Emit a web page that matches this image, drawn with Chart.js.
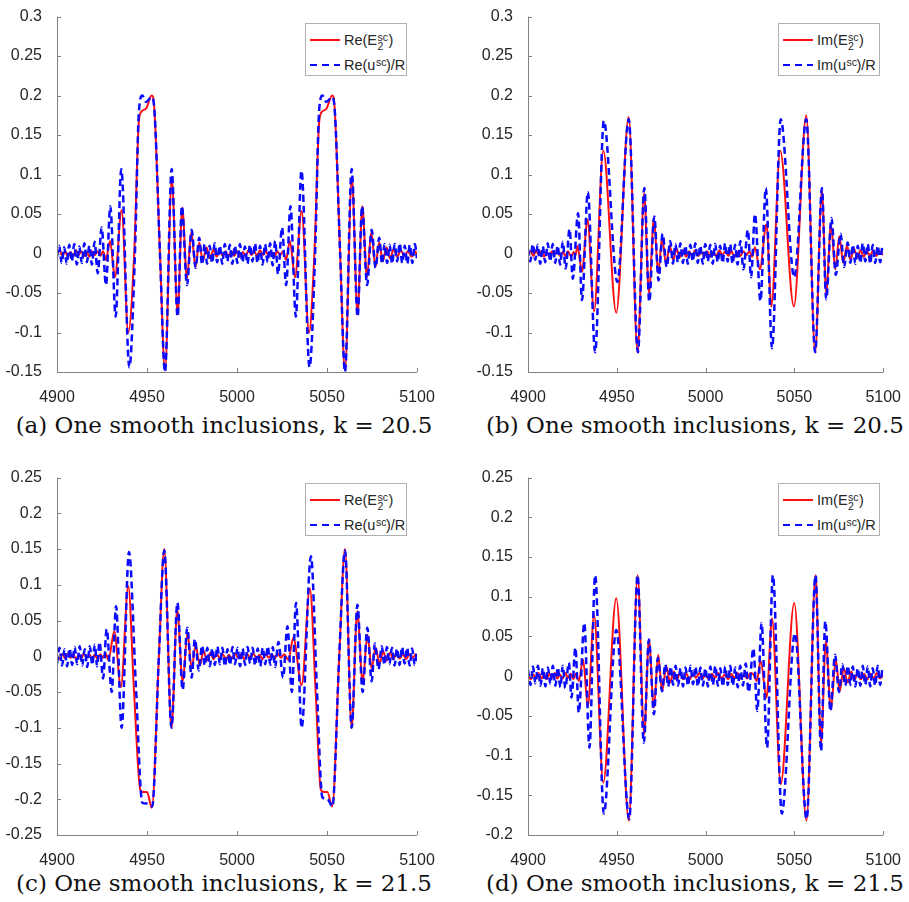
<!DOCTYPE html>
<html>
<head>
<meta charset="utf-8">
<script src="https://cdn.jsdelivr.net/npm/chart.js@4.4.1/dist/chart.umd.min.js"></script>
<style>
  body { margin: 0; background: #fff; width: 909px; height: 902px; position: relative; overflow: hidden;
         font-family: "Liberation Sans", Arial, sans-serif; }
  .panel { position: absolute; }
  .cap { position: absolute; font-family: "DejaVu Serif", serif; font-size: 23px;
         white-space: nowrap; transform: translate(-50%, -50%); color: #111; }
  .leg { position: absolute; width: 100px; height: 51px; border: 1px solid #b0b0b0; background: #fff;
         font-size: 14.5px; color: #262626; }
  .row { position: absolute; left: 4px; height: 20px; display: flex; align-items: center; white-space: nowrap; }
  .r1 { top: 6px; }
  .r2 { top: 31px; }
  .solid { width: 30px; height: 2px; background: #ff1010; margin-right: 4px; }
  .dash { width: 30px; height: 2.5px; margin-right: 4px;
          background: repeating-linear-gradient(to right, #0a0aff 0 7px, transparent 7px 12px); }
  .ss { display: inline-block; position: relative; width: 11.5px; height: 14.5px; }
  .ss .up, .ss .dn { position: absolute; left: 0.5px; font-size: 10.5px; line-height: 1; }
  .ss .up { top: -1px; }
  .ss .dn { top: 8.5px; }
</style>
</head>
<body>

<div class="panel" style="left:0;top:0"><canvas id="pa" width="445" height="405"></canvas></div>
<div class="panel" style="left:471px;top:0"><canvas id="pb" width="438" height="405"></canvas></div>
<div class="panel" style="left:0;top:461px"><canvas id="pc" width="445" height="407"></canvas></div>
<div class="panel" style="left:471px;top:461px"><canvas id="pd" width="438" height="407"></canvas></div>

<div class="leg" style="left:305px;top:23px">
  <div class="row r1"><span class="solid"></span>Re(E<span class="ss"><span class="up">sc</span><span class="dn">2</span></span>)</div>
  <div class="row r2"><span class="dash"></span>Re(u<span class="ss" style="width:10.5px"><span class="up">sc</span></span>)/R</div>
</div>
<div class="leg" style="left:778px;top:23px">
  <div class="row r1"><span class="solid"></span>Im(E<span class="ss"><span class="up">sc</span><span class="dn">2</span></span>)</div>
  <div class="row r2"><span class="dash"></span>Im(u<span class="ss" style="width:10.5px"><span class="up">sc</span></span>)/R</div>
</div>
<div class="leg" style="left:305px;top:483px">
  <div class="row r1"><span class="solid"></span>Re(E<span class="ss"><span class="up">sc</span><span class="dn">2</span></span>)</div>
  <div class="row r2"><span class="dash"></span>Re(u<span class="ss" style="width:10.5px"><span class="up">sc</span></span>)/R</div>
</div>
<div class="leg" style="left:778px;top:483px">
  <div class="row r1"><span class="solid"></span>Im(E<span class="ss"><span class="up">sc</span><span class="dn">2</span></span>)</div>
  <div class="row r2"><span class="dash"></span>Im(u<span class="ss" style="width:10.5px"><span class="up">sc</span></span>)/R</div>
</div>

<div class="cap" style="left:224px;top:425px">(a) One smooth inclusions, k = 20.5</div>
<div class="cap" style="left:695px;top:425px">(b) One smooth inclusions, k = 20.5</div>
<div class="cap" style="left:224px;top:883px">(c) One smooth inclusions, k = 21.5</div>
<div class="cap" style="left:695px;top:883px">(d) One smooth inclusions, k = 21.5</div>

<script>
// x range and y ranges of the four panels
var xTicks = [4900, 4950, 5000, 5050, 5100];
var yRangeA = [-0.15, 0.3];
var yRangeB = [-0.15, 0.3];
var yRangeC = [-0.25, 0.25];
var yRangeD = [-0.2, 0.25];

// (a) k = 20.5, real parts  [x, value]
var reE_a = [[4900,0.001],[4901.5,0.004],[4903,-0.003],[4904.5,0.003],[4906,-0.004],[4907.5,0.002],[4909,-0.003],[4910.5,0.004],[4912,-0.002],[4913.5,0.003],[4915,-0.003],[4916.5,0.002],[4918,-0.004],[4919.5,0.003],[4921,-0.002],[4922.5,0.003],[4924,-0.003],[4925.6,0.003],[4927.2,-0.008],[4929.4,0.016],[4932.2,-0.03],[4935.9,0.055],[4939.6,-0.1],[4942.9,0],[4945.5,0.168],[4947,0.18],[4949.6,0.184],[4952.6,0.2],[4954,0.186],[4957.2,0],[4960,-0.148],[4963.8,0.095],[4967,-0.077],[4969.6,0.058],[4972.2,-0.032],[4974.6,0.027],[4976.9,-0.017],[4979,0.014],[4981,-0.01],[4983,0.008],[4985,-0.006],[4987,0.005],[4988.7,-0.004],[4990.4,0.004],[4992,-0.003],[4993.6,0.003],[4995.2,-0.004],[4996.8,0.003],[4998.4,-0.003],[5000,0.003],[5001.6,-0.004],[5003.2,0.002],[5004.8,-0.003],[5006.4,0.004],[5008,-0.002],[5009.6,0.003],[5011.2,-0.003],[5012.8,0.004],[5014.4,-0.002],[5016,0.003],[5017.6,-0.003],[5019.2,0.002],[5020.8,-0.004],[5022.4,0.003],[5024,-0.002],[5025.6,0.003],[5027.2,-0.008],[5029.4,0.016],[5032.2,-0.03],[5035.9,0.054],[5040,-0.1],[5043,0],[5045.7,0.168],[5047.4,0.18],[5049.6,0.183],[5052.9,0.2],[5054.2,0.186],[5057.3,0],[5060,-0.148],[5063.8,0.097],[5067,-0.077],[5069.6,0.06],[5072.2,-0.03],[5074.6,0.027],[5076.9,-0.017],[5079,0.014],[5081,-0.01],[5083,0.008],[5085,-0.006],[5087,0.005],[5089,-0.004],[5091,0.004],[5093,-0.003],[5095,0.003],[5097,-0.004],[5099,0.003],[5100,-0.003]];
var reU_a = [[4900,-0.004],[4901.2,0.010],[4902.6,-0.012],[4904,0.008],[4905.4,-0.013],[4906.8,0.011],[4908.2,-0.010],[4909.6,0.012],[4911,-0.014],[4912.4,0.009],[4913.8,-0.012],[4915.2,0.013],[4916.6,-0.011],[4918,0.010],[4919.4,-0.014],[4920.9,0.015],[4922.6,-0.025],[4924.8,0.033],[4927.2,-0.040],[4929.6,0.060],[4932.6,-0.080],[4935.7,0.107],[4940.2,-0.144],[4943.3,0.000],[4945.5,0.180],[4947.4,0.200],[4949.5,0.192],[4952.6,0.198],[4954,0.185],[4957.2,0.000],[4960,-0.150],[4963.7,0.107],[4967,-0.080],[4969.4,0.060],[4972.2,-0.040],[4974.8,0.030],[4977,-0.018],[4979,0.020],[4980.6,-0.014],[4982,0.012],[4983.4,-0.013],[4984.8,0.010],[4986.2,-0.012],[4987.6,0.013],[4989,-0.011],[4990.4,0.010],[4991.8,-0.013],[4993.2,0.012],[4994.6,-0.010],[4996,0.011],[4997.4,-0.013],[4998.8,0.010],[5000.2,-0.012],[5001.6,0.012],[5003,-0.011],[5004.4,0.009],[5005.8,-0.013],[5007.2,0.011],[5008.6,-0.010],[5010,0.013],[5011.4,-0.012],[5012.8,0.010],[5014.2,-0.014],[5015.6,0.012],[5017,-0.011],[5018.4,0.013],[5019.8,-0.015],[5021.2,0.016],[5022.8,-0.026],[5025,0.033],[5027.3,-0.040],[5029.7,0.060],[5032.7,-0.080],[5035.8,0.105],[5040.3,-0.144],[5043.4,0.000],[5045.6,0.180],[5047.5,0.200],[5049.6,0.192],[5052.8,0.198],[5054.2,0.185],[5057.3,0.000],[5060,-0.150],[5063.7,0.107],[5067,-0.080],[5069.5,0.060],[5072.3,-0.040],[5074.8,0.030],[5077,-0.018],[5079,0.020],[5080.6,-0.013],[5082,0.012],[5083.4,-0.012],[5084.8,0.011],[5086.2,-0.013],[5087.6,0.012],[5089,-0.010],[5090.4,0.013],[5091.8,-0.012],[5093.2,0.010],[5094.6,-0.013],[5096,0.011],[5097.4,-0.012],[5098.8,0.012],[5100,-0.006]];

// (b) k = 20.5, imaginary parts
var imE_b = [[4900,-0.002],[4901.5,0.003],[4903,-0.003],[4904.5,0.004],[4906,-0.002],[4907.5,0.003],[4909,-0.004],[4910.5,0.002],[4912,-0.003],[4913.5,0.003],[4915,-0.002],[4916.5,0.004],[4918,-0.003],[4919.5,0.002],[4921,-0.003],[4922.5,0.003],[4924.2,-0.004],[4925.8,0.002],[4926.8,-0.002],[4927.8,0.010],[4930.4,-0.023],[4933.5,0.043],[4937.2,-0.073],[4942.4,0.130],[4949.7,-0.075],[4956.7,0.173],[4961.7,-0.125],[4965.4,0.076],[4968.1,-0.050],[4970.9,0.045],[4973.3,-0.025],[4975.5,0.020],[4977.7,-0.013],[4979.8,0.010],[4981.8,-0.008],[4983.6,0.006],[4985.4,-0.005],[4987.2,0.004],[4989,-0.004],[4990.7,0.003],[4992.4,-0.003],[4994.1,0.004],[4995.8,-0.003],[4997.5,0.002],[4999.2,-0.003],[5000.9,0.003],[5002.6,-0.004],[5004.3,0.002],[5006,-0.003],[5007.7,0.004],[5009.4,-0.002],[5011.1,0.003],[5012.8,-0.003],[5014.5,0.003],[5016.2,-0.004],[5017.9,0.002],[5019.6,-0.003],[5021.3,0.003],[5023,-0.002],[5024.6,0.003],[5026.2,-0.004],[5027.8,0.008],[5030.5,-0.020],[5034.3,0.037],[5037,-0.067],[5042,0.130],[5049.7,-0.067],[5056.7,0.175],[5061.7,-0.125],[5065.5,0.080],[5067.9,-0.050],[5070.6,0.037],[5073,-0.020],[5075.3,0.022],[5077.5,-0.012],[5079.6,0.010],[5081.6,-0.008],[5083.5,0.006],[5085.4,-0.005],[5087.2,0.004],[5089,-0.004],[5090.8,0.003],[5092.6,-0.003],[5094.4,0.004],[5096.2,-0.003],[5098,0.003],[5100,-0.002]];
var imU_b = [[4900,0.006],[4901.3,-0.010],[4902.7,0.012],[4904.1,-0.008],[4905.5,0.011],[4906.9,-0.013],[4908.3,0.009],[4909.7,-0.011],[4911.1,0.013],[4912.5,-0.010],[4913.9,0.012],[4915.3,-0.012],[4916.7,0.010],[4918.1,-0.014],[4919.6,0.015],[4921.2,-0.019],[4923.4,0.031],[4925.2,-0.032],[4928.2,0.051],[4930.4,-0.059],[4933.7,0.078],[4937.8,-0.125],[4942.7,0.168],[4950.3,-0.036],[4956.7,0.170],[4961.9,-0.125],[4965.5,0.083],[4968.3,-0.061],[4971.1,0.047],[4973.5,-0.034],[4975.8,0.025],[4978.1,-0.017],[4980.1,0.016],[4981.6,-0.013],[4983,0.012],[4984.4,-0.011],[4985.8,0.013],[4987.2,-0.012],[4988.6,0.010],[4990,-0.013],[4991.4,0.011],[4992.8,-0.010],[4994.2,0.013],[4995.6,-0.012],[4997,0.010],[4998.4,-0.013],[4999.8,0.012],[5001.2,-0.010],[5002.6,0.011],[5004,-0.013],[5005.4,0.012],[5006.8,-0.011],[5008.2,0.010],[5009.6,-0.012],[5011,0.013],[5012.4,-0.010],[5013.8,0.012],[5015.2,-0.013],[5016.6,0.011],[5018,-0.014],[5019.6,0.016],[5021.3,-0.020],[5023.8,0.030],[5025.6,-0.030],[5027.8,0.050],[5030.9,-0.060],[5033.9,0.083],[5037.4,-0.120],[5042.3,0.170],[5049.9,-0.030],[5056.7,0.170],[5061.7,-0.125],[5065.5,0.083],[5067.9,-0.058],[5070.9,0.045],[5073.3,-0.027],[5076,0.025],[5078,-0.017],[5080,0.014],[5081.5,-0.012],[5082.9,0.011],[5084.3,-0.013],[5085.7,0.010],[5087.1,-0.012],[5088.5,0.013],[5089.9,-0.010],[5091.3,0.012],[5092.7,-0.013],[5094.1,0.011],[5095.5,-0.012],[5096.9,0.010],[5098.3,-0.011],[5099.6,0.009],[5100,0.004]];

// (c) k = 21.5, real parts
var reE_c = [[4900,0.002],[4901.5,-0.004],[4903,0.003],[4904.5,-0.003],[4906,0.004],[4907.5,-0.002],[4909,0.003],[4910.5,-0.004],[4912,0.002],[4913.5,-0.003],[4915,0.004],[4916.5,-0.002],[4918,0.003],[4919.5,-0.003],[4921,0.002],[4922.5,-0.004],[4924,0.003],[4925.5,-0.002],[4927,0.004],[4928.6,-0.005],[4931.8,0.035],[4935.5,-0.043],[4939.6,0.098],[4942.8,-0.05],[4946.3,-0.187],[4948.2,-0.19],[4950,-0.19],[4952.7,-0.212],[4956.6,0],[4959.6,0.15],[4963.6,-0.1],[4966.8,0.065],[4969.8,-0.036],[4972.5,0.033],[4974.8,-0.017],[4977,0.015],[4979.4,-0.013],[4981.4,0.008],[4983.3,-0.006],[4985.2,0.005],[4987,-0.004],[4988.7,0.004],[4990.4,-0.003],[4992.1,0.003],[4993.8,-0.004],[4995.5,0.002],[4997.2,-0.003],[4998.9,0.004],[5000.6,-0.002],[5002.3,0.003],[5004,-0.004],[5005.7,0.003],[5007.4,-0.002],[5009.1,0.004],[5010.8,-0.003],[5012.5,0.002],[5014.2,-0.004],[5015.9,0.003],[5017.6,-0.002],[5019.3,0.003],[5021,-0.003],[5022.7,0.004],[5024.4,-0.002],[5026.2,0.003],[5028.5,-0.005],[5031.3,0.026],[5035.9,-0.04],[5040.5,0.095],[5043.7,-0.05],[5046.6,-0.187],[5048.6,-0.19],[5050.2,-0.19],[5052.9,-0.21],[5056.8,0],[5060,0.15],[5063.7,-0.1],[5066.8,0.063],[5069.8,-0.036],[5072.5,0.03],[5074.8,-0.017],[5077,0.012],[5079.2,-0.01],[5081.2,0.007],[5083.1,-0.006],[5085,0.005],[5086.8,-0.004],[5088.6,0.004],[5090.4,-0.003],[5092.2,0.003],[5094,-0.004],[5095.8,0.003],[5097.6,-0.002],[5099.4,0.003],[5100,0.001]];
var reU_c = [[4900,-0.010],[4901.4,0.012],[4902.8,-0.013],[4904.2,0.010],[4905.6,-0.014],[4907,0.011],[4908.4,-0.012],[4909.8,0.013],[4911.2,-0.011],[4912.6,0.014],[4914,-0.013],[4915.4,0.010],[4916.8,-0.015],[4918.2,0.014],[4919.6,-0.012],[4921,0.016],[4922.3,-0.014],[4923.6,0.020],[4925.6,-0.031],[4927.6,0.038],[4930.4,-0.050],[4932.8,0.070],[4935.9,-0.100],[4940,0.146],[4943.8,-0.040],[4947.4,-0.205],[4950.3,-0.206],[4952.9,-0.210],[4956.6,0],[4959.6,0.148],[4963.6,-0.100],[4966.9,0.075],[4969.8,-0.047],[4972.4,0.040],[4974.8,-0.030],[4976.6,0.024],[4978.8,-0.020],[4980.6,0.015],[4982.1,-0.013],[4983.5,0.012],[4984.9,-0.014],[4986.3,0.011],[4987.7,-0.012],[4989.1,0.014],[4990.5,-0.011],[4991.9,0.012],[4993.3,-0.014],[4994.7,0.010],[4996.1,-0.012],[4997.5,0.013],[4998.9,-0.011],[5000.3,0.012],[5001.7,-0.014],[5003.1,0.011],[5004.5,-0.012],[5005.9,0.013],[5007.3,-0.010],[5008.7,0.012],[5010.1,-0.013],[5011.5,0.011],[5012.9,-0.014],[5014.3,0.012],[5015.7,-0.011],[5017.1,0.014],[5018.5,-0.012],[5019.9,0.013],[5021.2,-0.015],[5023,0.020],[5025.6,-0.030],[5028,0.042],[5030.5,-0.050],[5032.8,0.075],[5035.9,-0.100],[5041.1,0.140],[5044.3,-0.040],[5047.4,-0.197],[5050.3,-0.200],[5053,-0.210],[5056.8,0],[5060,0.148],[5063.7,-0.100],[5066.9,0.072],[5069.8,-0.050],[5072.4,0.040],[5074.8,-0.035],[5076.6,0.018],[5078.6,-0.018],[5080.4,0.014],[5081.9,-0.012],[5083.3,0.013],[5084.7,-0.011],[5086.1,0.012],[5087.5,-0.013],[5088.9,0.011],[5090.3,-0.012],[5091.7,0.013],[5093.1,-0.010],[5094.5,0.012],[5095.9,-0.013],[5097.3,0.011],[5098.7,-0.012],[5100,0.008]];

// (d) k = 21.5, imaginary parts
var imE_d = [[4900,0.003],[4901.5,-0.004],[4903,0.002],[4904.5,-0.003],[4906,0.004],[4907.5,-0.003],[4909,0.002],[4910.5,-0.004],[4912,0.003],[4913.5,-0.002],[4915,0.004],[4916.5,-0.003],[4918,0.002],[4919.5,-0.003],[4921,0.004],[4922.5,-0.002],[4924,0.003],[4925.5,-0.004],[4927,0.003],[4928.6,-0.006],[4931,0.021],[4933.7,-0.038],[4937.2,0.077],[4942.4,-0.134],[4949.7,0.098],[4956.8,-0.182],[4961.7,0.127],[4965.4,-0.073],[4968.1,0.046],[4970.9,-0.040],[4973.3,0.027],[4975.5,-0.019],[4977.9,0.012],[4980,-0.008],[4982,0.006],[4983.8,-0.005],[4985.6,0.004],[4987.4,-0.004],[4989.2,0.003],[4991,-0.004],[4992.8,0.003],[4994.6,-0.002],[4996.4,0.004],[4998.2,-0.003],[5000,0.002],[5001.8,-0.004],[5003.6,0.003],[5005.4,-0.002],[5007.2,0.004],[5009,-0.003],[5010.8,0.002],[5012.6,-0.004],[5014.4,0.003],[5016.2,-0.002],[5018,0.004],[5019.8,-0.003],[5021.6,0.002],[5023.4,-0.003],[5025.2,0.004],[5027,0.002],[5028.8,-0.006],[5031,0.019],[5034.3,-0.027],[5037.4,0.073],[5042.3,-0.136],[5049.9,0.092],[5056.8,-0.182],[5061.9,0.127],[5065,-0.085],[5067.7,0.044],[5070.5,-0.042],[5073.3,0.021],[5075.5,-0.019],[5077.8,0.010],[5080,-0.008],[5082,0.006],[5083.8,-0.005],[5085.6,0.004],[5087.4,-0.004],[5089.2,0.003],[5091,-0.004],[5092.8,0.003],[5094.6,-0.003],[5096.4,0.004],[5098.2,-0.003],[5100,0.002]];
var imU_d = [[4900,0.008],[4901.4,-0.011],[4902.8,0.012],[4904.2,-0.009],[4905.6,0.013],[4907,-0.012],[4908.4,0.010],[4909.8,-0.013],[4911.2,0.011],[4912.6,-0.010],[4914,0.013],[4915.4,-0.012],[4916.8,0.011],[4918.2,-0.014],[4919.6,0.013],[4921,-0.015],[4923,0.017],[4924.5,-0.027],[4926.7,0.036],[4928.6,-0.046],[4931.7,0.067],[4934.6,-0.090],[4937.8,0.127],[4942.7,-0.173],[4949.7,0.058],[4957,-0.180],[4961.7,0.127],[4965.2,-0.084],[4968.1,0.046],[4970.9,-0.048],[4973.1,0.023],[4975.5,-0.019],[4977.3,0.015],[4978.9,-0.013],[4980.3,0.012],[4981.7,-0.011],[4983.1,0.013],[4984.5,-0.012],[4985.9,0.010],[4987.3,-0.013],[4988.7,0.011],[4990.1,-0.012],[4991.5,0.013],[4992.9,-0.010],[4994.3,0.012],[4995.7,-0.013],[4997.1,0.011],[4998.5,-0.012],[4999.9,0.010],[5001.3,-0.013],[5002.7,0.012],[5004.1,-0.011],[5005.5,0.013],[5006.9,-0.012],[5008.3,0.010],[5009.7,-0.013],[5011.1,0.012],[5012.5,-0.011],[5013.9,0.013],[5015.3,-0.012],[5016.7,0.011],[5018.1,-0.014],[5019.5,0.013],[5021,-0.012],[5022.6,0.016],[5024.2,-0.020],[5026.9,0.035],[5029.1,-0.044],[5031.5,0.067],[5034.6,-0.090],[5037.9,0.127],[5042.9,-0.173],[5050.3,0.054],[5056.9,-0.180],[5061.9,0.127],[5065,-0.094],[5067.4,0.069],[5070.3,-0.044],[5072.9,0.027],[5075.1,-0.020],[5077,0.015],[5078.6,-0.012],[5080.1,0.013],[5081.5,-0.011],[5082.9,0.012],[5084.3,-0.013],[5085.7,0.010],[5087.1,-0.012],[5088.5,0.013],[5089.9,-0.011],[5091.3,0.012],[5092.7,-0.013],[5094.1,0.010],[5095.5,-0.012],[5096.9,0.013],[5098.3,-0.011],[5099.7,0.010],[5100,0.006]];

Chart.defaults.font.family = "'Liberation Sans', Arial, sans-serif";

// MATLAB-like axes: left + bottom lines, ticks pointing inward
const eixos = {
  id: 'eixos',
  afterDraw(chart) {
    const ctx = chart.ctx, a = chart.chartArea, x = chart.scales.x, y = chart.scales.y;
    ctx.save();
    ctx.strokeStyle = '#808080';
    ctx.lineWidth = 1;
    ctx.beginPath();
    ctx.moveTo(a.left + 0.5, a.top);
    ctx.lineTo(a.left + 0.5, a.bottom + 0.5);
    ctx.lineTo(a.right, a.bottom + 0.5);
    x.ticks.forEach(function (t) {
      const px = Math.round(x.getPixelForValue(t.value)) + 0.5;
      ctx.moveTo(px, a.bottom);
      ctx.lineTo(px, a.bottom - 4);
    });
    y.ticks.forEach(function (t) {
      const py = Math.round(y.getPixelForValue(t.value)) + 0.5;
      ctx.moveTo(a.left, py);
      ctx.lineTo(a.left + 4, py);
    });
    ctx.stroke();
    ctx.restore();
  }
};

function pontos(serie) {
  return serie.map(function (p) { return { x: p[0], y: p[1] }; });
}

function criarPainel(id, vermelho, azul, faixaY, padDireita) {
  return new Chart(document.getElementById(id), {
    type: 'line',
    data: {
      datasets: [
        { data: pontos(azul), borderColor: '#0a0aff', borderWidth: 2.5, borderDash: [7, 4],
          pointRadius: 0, cubicInterpolationMode: 'monotone', order: 0 },
        { data: pontos(vermelho), borderColor: '#ff1010', borderWidth: 2,
          pointRadius: 0, cubicInterpolationMode: 'monotone', order: 1 }
      ]
    },
    options: {
      responsive: false,
      animation: false,
      layout: { padding: { top: 12, right: padDireita, left: 0, bottom: 0 } },
      plugins: { legend: { display: false }, tooltip: { enabled: false } },
      scales: {
        x: {
          type: 'linear', min: xTicks[0], max: xTicks[xTicks.length - 1],
          grid: { display: false }, border: { display: false },
          afterBuildTicks: function (s) { s.ticks = xTicks.map(function (v) { return { value: v }; }); },
          ticks: { padding: 8, color: '#262626', font: { size: 16 }, maxRotation: 0,
                   callback: function (v) { return String(v); } },
          afterFit: function (s) { s.height = 33; }
        },
        y: {
          type: 'linear', min: faixaY[0], max: faixaY[1],
          grid: { display: false }, border: { display: false },
          ticks: { stepSize: 0.05, padding: 7, color: '#262626', font: { size: 16 },
                   callback: function (v) { return String(Math.round(v * 100) / 100); } },
          afterFit: function (s) { s.width = 57; }
        }
      }
    },
    plugins: [eixos]
  });
}

criarPainel('pa', reE_a, reU_a, yRangeA, 28);
criarPainel('pb', imE_b, imU_b, yRangeB, 19);
criarPainel('pc', reE_c, reU_c, yRangeC, 28);
criarPainel('pd', imE_d, imU_d, yRangeD, 19);
</script>
</body>
</html>
